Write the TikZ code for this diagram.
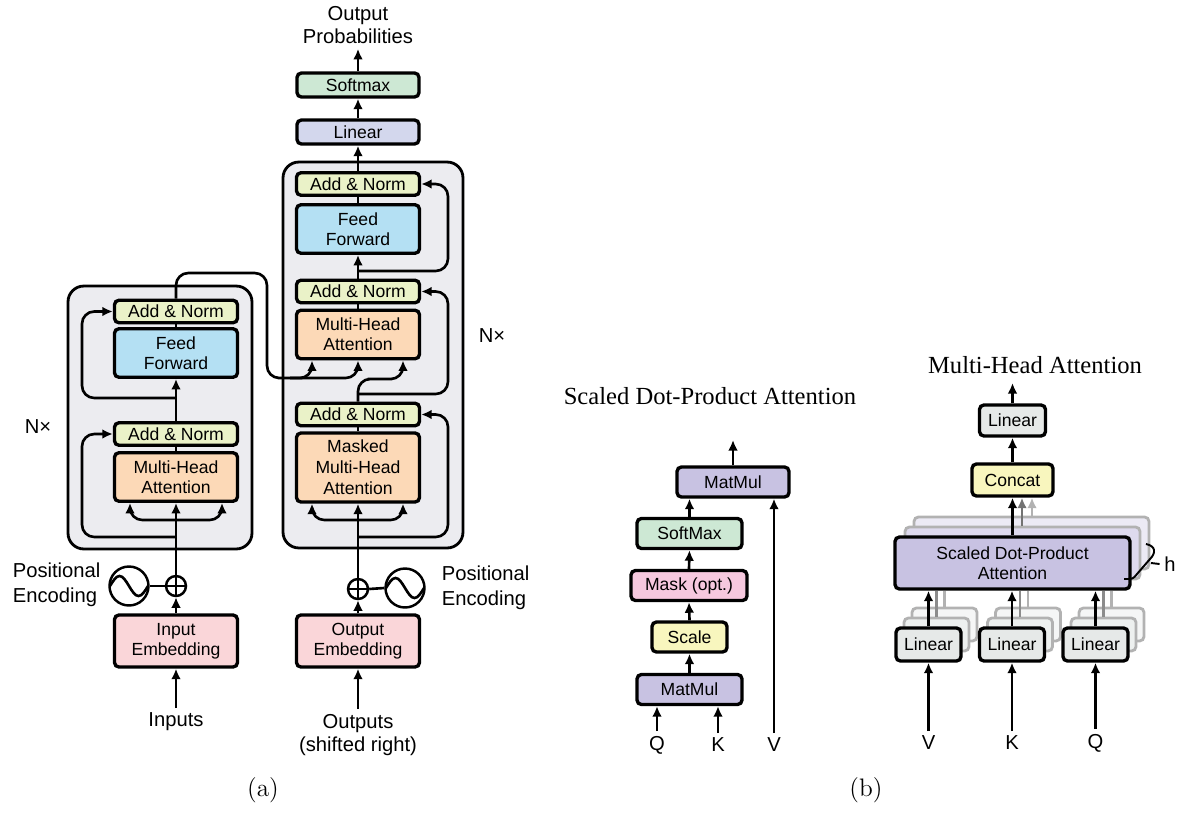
\documentclass[tikz,border=0pt]{standalone}
\usepackage{fontspec}
\newfontfamily\helv{Liberation Sans}
\newfontfamily\tms{Liberation Serif}
\usetikzlibrary{positioning}
\usetikzlibrary{arrows.meta}
\tikzset{>={Latex[width=5.5pt,length=6pt]}}
\definecolor{blockgray}{RGB}{236,236,240}
\definecolor{addnormgreen}{RGB}{234,242,200}
\definecolor{ffblue}{RGB}{180,224,243}
\definecolor{mhaorange}{RGB}{252,217,183}
\definecolor{embpink}{RGB}{250,214,217}
\definecolor{linlav}{RGB}{211,215,237}
\definecolor{smgreen}{RGB}{205,232,212}
\definecolor{matpurple}{RGB}{200,194,226}
\definecolor{maskpink}{RGB}{246,200,222}
\definecolor{scaleyellow}{RGB}{248,246,190}
\definecolor{lingray}{RGB}{230,233,232}

\begin{document}
\begin{tikzpicture}[x=0.02cm, y=-0.02cm, line width=1.5pt]
\useasboundingbox (0,0) rectangle (1180,812);
% Define styles
\tikzstyle{layer} = [rectangle, draw, rounded corners=2.5pt, line width=1.9pt, align=center, inner sep=1pt, font=\helv\fontsize{10}{11.5}\selectfont]
\tikzstyle{addnorm} = [layer, fill=addnormgreen, minimum width=2.46cm, minimum height=0.45cm]
\tikzstyle{ffn} = [layer, fill=ffblue, minimum width=2.46cm, minimum height=0.97cm]
\tikzstyle{mha} = [layer, fill=mhaorange, minimum width=2.46cm, minimum height=0.97cm]
\tikzstyle{embed} = [layer, fill=embpink, minimum width=2.46cm, minimum height=1.04cm]
\tikzstyle{op} = [layer, minimum height=0.6cm]
\tikzstyle{ghost} = [rectangle, draw=black!30, rounded corners=2.5pt, line width=1.6pt]
\tikzstyle{block} = [rectangle, draw, fill=blockgray, rounded corners=9pt, line width=1.6pt]
\tikzstyle{adder} = [circle, draw, fill=white, minimum size=0.4cm, inner sep=0pt, line width=1.4pt]
\tikzstyle{wave} = [circle, draw, fill=white, minimum size=0.78cm, inner sep=0pt, line width=1.4pt]
\tikzstyle{txt} = [align=center, inner sep=2pt, font=\helv\fontsize{11.5}{13.5}\selectfont]
\tikzstyle{heading} = [font=\tms\fontsize{14}{16}\selectfont]

% (a) encoder and decoder
\node[block, minimum width=3.68cm, minimum height=5.26cm] (encBlock) at (160,417.5) {};
\node[block, minimum width=3.6cm, minimum height=7.72cm] (decBlock) at (373,355) {};

\node[addnorm] (encAN2) at (176,311.5) {Add \& Norm};
\node[ffn] (encFF) at (176,353) {Feed\\Forward};
\node[addnorm] (encAN1) at (176,434) {Add \& Norm};
\node[mha] (encMHA) at (176,477) {Multi-Head\\Attention};
\node[embed] (inEmb) at (176,641) {Input\\Embedding};
\node[adder] (encPlus) at (176,586) {};
\node[wave] (encPE) at (129,586) {};
\node[txt, align=left, anchor=west, font=\helv\fontsize{11.5}{14}\selectfont] (encPEtxt) at (8,585) {Positional\\Encoding};
\node[txt] (inputs) at (176,722) {Inputs};
\node[txt] (encN) at (38,427) {N×};

\node[addnorm] (decAN3) at (358,184) {Add \& Norm};
\node[ffn] (decFF) at (358,229) {Feed\\Forward};
\node[addnorm] (decAN2) at (358,291.5) {Add \& Norm};
\node[mha] (decMHA) at (358,334.5) {Multi-Head\\Attention};
\node[addnorm] (decAN1) at (358,414.5) {Add \& Norm};
\node[mha, minimum height=1.38cm, font=\helv\fontsize{10}{12}\selectfont] (decMMHA) at (358,467.5) {Masked\\Multi-Head\\Attention};
\node[embed] (outEmb) at (358,641) {Output\\Embedding};
\node[adder] (decPlus) at (358,589) {};
\node[wave] (decPE) at (405,588) {};
\node[txt, align=left, anchor=west, font=\helv\fontsize{11.5}{14}\selectfont] (decPEtxt) at (437,588) {Positional\\Encoding};
\node[txt] (outputs) at (358,735) {Outputs\\(shifted right)};
\node[txt] (decN) at (492,336) {N×};

\node[layer, fill=linlav, minimum width=2.44cm, minimum height=0.48cm] (linear) at (358,132) {Linear};
\node[layer, fill=smgreen, minimum width=2.44cm, minimum height=0.48cm] (softmax) at (358,85) {Softmax};
\node[txt] (outProb) at (358,25) {Output\\Probabilities};

% adders and sine waves
\draw[line width=1.1pt] (encPlus.north) -- (encPlus.south) (encPlus.west) -- (encPlus.east);
\draw[line width=1.1pt] (decPlus.north) -- (decPlus.south) (decPlus.west) -- (decPlus.east);
\draw[shift={(encPE.center)}] (-19,0) sin (-9.5,-10) cos (0,0) sin (9.5,10) cos (19,0);
\draw[shift={(decPE.center)}] (-19,0) sin (-9.5,-10) cos (0,0) sin (9.5,10) cos (19,0);

% Connect the nodes (encoder)
\coordinate (encSplit) at (176,520);
\coordinate (encRes1) at (176,537);
\coordinate (encRes2) at (176,398);
\coordinate (encTop) at (267,273);
\coordinate (encOut) at (290,378);
\draw[->] (inputs.north) -- (inEmb.south);
\draw[->] (inEmb.north) -- (encPlus.south);
\draw (encPE.east) -- (encPlus.west);
\draw[->] (encPlus.north) -- (encMHA.south);
\draw[->, rounded corners=7pt] (encSplit) -| (130,0 |- encMHA.south);
\draw[->, rounded corners=7pt] (encSplit) -| (222,0 |- encMHA.south);
\draw[->, rounded corners=7pt] (encRes1) -| (82,0 |- encAN1.west) -- (encAN1.west);
\draw (encMHA.north) -- (encAN1.south);
\draw[->] (encAN1.north) -- (encFF.south);
\draw[->, rounded corners=7pt] (encRes2) -| (82,0 |- encAN2.west) -- (encAN2.west);
\draw (encFF.north) -- (encAN2.south);
\draw[->, rounded corners=7pt] (encAN2.north) |- (encTop) |- (encOut) -| (312,0 |- decMHA.south);
\draw[->, rounded corners=7pt] (encOut) -| (decMHA.south);

% Connect the nodes (decoder)
\coordinate (decSplit) at (358,520);
\coordinate (decRes1) at (358,537);
\coordinate (decRes2) at (358,394);
\coordinate (decRes3) at (358,271);
\coordinate (decTurn) at (380,379);
\draw[->] (outputs.north) -- (outEmb.south);
\draw[->] (outEmb.north) -- (decPlus.south);
\draw (decPlus.east) -- (decPE.west);
\draw[->] (decPlus.north) -- (decMMHA.south);
\draw[->, rounded corners=7pt] (decSplit) -| (312,0 |- decMMHA.south);
\draw[->, rounded corners=7pt] (decSplit) -| (403,0 |- decMMHA.south);
\draw[->, rounded corners=7pt] (decRes1) -| (448,0 |- decAN1.east) -- (decAN1.east);
\draw (decMMHA.north) -- (decAN1.south);
\draw[->, rounded corners=7pt] (decAN1.north) |- (decTurn) -| (403,0 |- decMHA.south);
\draw[->, rounded corners=7pt] (decRes2) -| (448,0 |- decAN2.east) -- (decAN2.east);
\draw (decMHA.north) -- (decAN2.south);
\draw[->] (decAN2.north) -- (decFF.south);
\draw[->, rounded corners=7pt] (decRes3) -| (448,0 |- decAN3.east) -- (decAN3.east);
\draw (decFF.north) -- (decAN3.south);
\draw[->] (decAN3.north) -- (linear.south);
\draw[->] (linear.north) -- (softmax.south);
\draw[->] (softmax.north) -- (outProb.south);

% (b) scaled dot-product attention
\node[heading] (sdpaTitle) at (710,396) {Scaled Dot-Product Attention};
\node[op, fill=matpurple, minimum width=2.1cm] (mm1) at (689.5,689.5) {MatMul};
\node[op, fill=scaleyellow, minimum width=1.5cm] (scale) at (689.5,637) {Scale};
\node[op, fill=maskpink, minimum width=2.32cm] (mask) at (689,585.5) {Mask (opt.)};
\node[op, fill=smgreen, minimum width=2.1cm] (sm2) at (689.5,533.5) {SoftMax};
\node[op, fill=matpurple, minimum width=2.24cm] (mm2) at (733,482) {MatMul};
\node[txt] (qIn) at (657,745) {Q};
\node[txt] (kIn) at (718,745) {K};
\node[txt] (vIn) at (774,745) {V};
\coordinate (sdpaOut) at (733,440);
\draw[->] (qIn.north) -- (qIn.north |- mm1.south);
\draw[->] (kIn.north) -- (kIn.north |- mm1.south);
\draw[->] (mm1.north) -- (scale.south);
\draw[->] (scale.north) -- (mask.south);
\draw[->] (mask.north) -- (sm2.south);
\draw[->] (sm2.north) -- (sm2.north |- mm2.south);
\draw[->] (vIn.north) -- (vIn.north |- mm2.south);
\draw[->] (mm2.north) -- (sdpaOut);

% (b) multi-head attention
\node[heading] (mhTitle) at (1035,365) {Multi-Head Attention};
\node[ghost, fill=matpurple!35, minimum width=4.7cm, minimum height=1.04cm] (sdpaG2) at (1031.5,543) {};
\node[ghost, fill=matpurple!60, minimum width=4.7cm, minimum height=1.04cm] (sdpaG1) at (1022.5,553) {};
\node[layer, fill=matpurple, minimum width=4.7cm, minimum height=1.04cm] (sdpa) at (1012.5,563) {Scaled Dot-Product\\Attention};
\node[layer, fill=scaleyellow, minimum width=1.62cm, minimum height=0.64cm] (concat) at (1012.5,480) {Concat};
\node[layer, fill=lingray, minimum width=1.32cm, minimum height=0.62cm] (lin4) at (1012.5,420.5) {Linear};

\node[ghost, fill=lingray!40, minimum width=1.3cm, minimum height=0.66cm] (linVg2) at (944.5,624.5) {};
\node[ghost, fill=lingray!70, minimum width=1.3cm, minimum height=0.66cm] (linVg1) at (936.5,634.5) {};
\node[layer, fill=lingray, minimum width=1.3cm, minimum height=0.66cm] (linV) at (928.5,644.5) {Linear};
\node[ghost, fill=lingray!40, minimum width=1.3cm, minimum height=0.66cm] (linKg2) at (1028,624.5) {};
\node[ghost, fill=lingray!70, minimum width=1.3cm, minimum height=0.66cm] (linKg1) at (1020,634.5) {};
\node[layer, fill=lingray, minimum width=1.3cm, minimum height=0.66cm] (linK) at (1012,644.5) {Linear};
\node[ghost, fill=lingray!40, minimum width=1.3cm, minimum height=0.66cm] (linQg2) at (1111.5,624.5) {};
\node[ghost, fill=lingray!70, minimum width=1.3cm, minimum height=0.66cm] (linQg1) at (1103.5,634.5) {};
\node[layer, fill=lingray, minimum width=1.3cm, minimum height=0.66cm] (linQ) at (1095.5,644.5) {Linear};

\node[txt] (vIn2) at (928.5,743) {V};
\node[txt] (kIn2) at (1012,743) {K};
\node[txt] (qIn2) at (1095.5,743) {Q};
\node[txt] (hLab) at (1170,564) {h};

\draw[->] (vIn2.north) -- (linV.south);
\draw[->] (kIn2.north) -- (linK.south);
\draw[->] (qIn2.north) -- (linQ.south);
\draw[black!30] (linVg2.north) -- (linVg2.north |- sdpa.south);
\draw[black!45] (linVg1.north) -- (linVg1.north |- sdpa.south);
\draw[black!30] (linKg2.north) -- (linKg2.north |- sdpa.south);
\draw[black!45] (linKg1.north) -- (linKg1.north |- sdpa.south);
\draw[black!30] (linQg2.north) -- (linQg2.north |- sdpa.south);
\draw[black!45] (linQg1.north) -- (linQg1.north |- sdpa.south);
\draw[->] (linV.north) -- (linV.north |- sdpa.south);
\draw[->] (linK.north) -- (linK.north |- sdpa.south);
\draw[->] (linQ.north) -- (linQ.north |- sdpa.south);
\draw[->, black!30] (1032,0 |- sdpaG2.north) -- (1032,0 |- concat.south);
\draw[->, black!55] (1022,0 |- sdpaG1.north) -- (1022,0 |- concat.south);
\draw[->] (sdpa.north) -- (concat.south);
\draw[->] (concat.north) -- (lin4.south);
\coordinate (mhOut) at (1012.5,383);
\draw[->] (lin4.north) -- (mhOut);
\draw[line width=1.1pt] (1146,544) .. controls (1156,546) and (1156,553) .. (1150,559) -- (1137,574) .. controls (1133,579) .. (1124,579);
\draw[line width=1.1pt] (1151,563) -- (hLab.west);

% captions
\node[font=\fontsize{14.4}{17}\selectfont] (capA) at (263,790) {(a)};
\node[font=\fontsize{14.4}{17}\selectfont] (capB) at (866,790) {(b)};
\end{tikzpicture}
\end{document}
